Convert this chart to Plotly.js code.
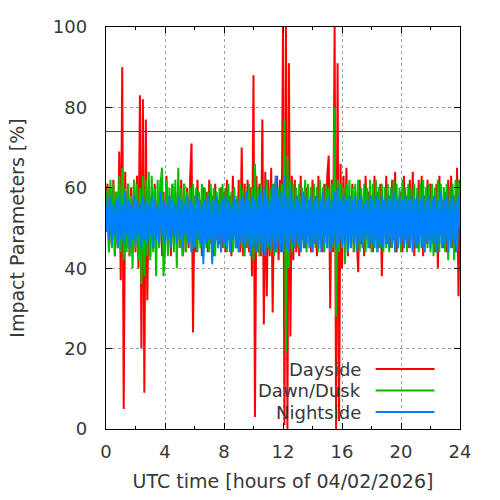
<!DOCTYPE html>
<html>
<head>
<meta charset="utf-8">
<script src="https://cdn.plot.ly/plotly-3.0.1.min.js"></script>
<style>html,body{margin:0;padding:0;background:#fff}#plot{width:500px;height:500px}</style>
</head>
<body>
<div id="plot"></div>
<script>
// Time grid: samples every 0.1 h from 0 to 24 h (241 samples)
var startHour = 0, stepHour = 0.1, nSamples = 241;

var seriesNames = ["Dayside", "Dawn/Dusk", "Nightside"];
var xTickVals = [0, 4, 8, 12, 16, 20, 24];
var yTickVals = [0, 20, 40, 60, 80, 100];
var thresholdValue = 74;

var dayside = [
 52,61,44,60,46,62,43,59,45,69,
 37,90,5,64,45,61,43,60,44,62,
 44,63,40,83,20,82,9,77,32,60,
 43,58,45,61,47,57,46,62,43,59,
 44,63,47,58,43,61,46,59,48,60,
 45,62,43,61,44,60,45,62,71,24,
 58,44,62,47,57,43,60,48,59,44,
 62,46,58,43,61,47,57,46,60,45,
 59,44,62,47,58,43,63,48,57,45,
 62,44,70,43,61,45,62,44,60,38,
 88,3,63,44,61,43,77,26,64,33,
 62,43,65,29,61,44,63,42,62,44,
 100,1,100,0,91,23,63,42,62,44,
 58,43,63,47,59,45,60,48,57,44,
 62,46,58,43,63,47,57,44,61,48,
 63,68,30,62,44,100,0,91,2,66,
 40,63,47,65,43,58,48,61,44,59,
 47,39,62,46,57,43,63,48,59,45,
 58,44,63,47,59,45,61,38,57,48,
 63,46,58,45,62,47,64,44,57,48,
 59,44,63,47,58,45,62,48,64,43,
 57,45,62,48,63,43,58,46,62,47,
 61,47,58,44,61,40,63,48,57,45,
 59,44,62,47,63,45,58,44,65,33,
 62
];

var dawnDusk = [
 52,60,44,62,45,61,43,59,46,63,
 44,65,42,60,44,61,43,58,40,62,
 45,61,42,60,36,63,38,62,43,64,
 42,63,44,60,38,62,45,61,65,38,
 44,62,43,60,45,61,44,62,40,65,
 45,60,43,61,44,59,46,60,44,61,
 45,60,44,59,45,61,43,60,45,59,
 44,61,45,60,43,59,46,60,44,61,
 45,60,44,61,45,59,44,60,45,58,
 44,61,45,60,43,59,45,61,44,60,
 42,66,44,60,43,61,45,60,44,62,
 45,60,44,61,43,62,44,60,45,61,
 46,77,19,68,40,62,44,61,45,60,
 45,61,44,60,46,62,44,61,45,60,
 44,61,45,60,44,62,45,60,44,61,
 45,60,44,61,45,80,28,62,44,61,
 45,60,41,61,44,62,45,60,44,61,
 45,62,44,60,45,61,44,60,45,62,
 44,61,45,62,44,60,45,61,44,60,
 45,61,44,60,45,62,44,61,45,60,
 44,62,45,60,44,61,45,60,44,61,
 45,60,44,61,45,62,44,60,45,61,
 44,61,43,60,45,62,44,61,45,60,
 44,61,42,60,45,61,42,62,44,62,
 50
];

var nightside = [
 49,57,47,58,46,56,48,57,45,58,
 47,56,46,59,48,57,45,56,47,58,
 46,57,48,56,45,58,47,57,46,56,
 48,58,45,57,47,56,46,59,48,57,
 46,56,47,58,45,57,48,56,46,58,
 47,57,45,56,48,58,46,57,44,56,
 45,58,47,57,46,56,41,57,46,58,
 47,56,41,57,46,58,45,56,44,57,
 46,58,45,57,44,56,47,58,45,57,
 44,57,46,58,45,59,46,57,43,58,
 45,57,44,58,46,59,44,60,43,58,
 46,57,45,60,44,63,45,58,44,59,
 44,63,45,58,44,60,46,57,45,58,
 46,57,44,59,45,58,46,57,45,58,
 44,57,46,58,45,57,44,59,46,57,
 45,58,44,57,46,59,45,60,46,57,
 45,58,46,57,44,58,45,57,46,58,
 44,57,46,58,45,56,47,57,45,58,
 46,57,45,58,44,57,46,58,45,57,
 46,58,45,57,46,59,44,57,45,58,
 46,57,45,58,46,57,45,58,44,57,
 45,58,46,57,45,58,44,57,46,58,
 45,57,46,58,44,57,46,59,45,57,
 46,58,44,57,45,58,46,57,44,58,
 50
];

var seriesColors = ["#ff0000", "#00c000", "#0080ff"];

var hours = [];
for (var i = 0; i < nSamples; i++) hours.push(+(startHour + i * stepHour).toFixed(2));

var seriesValues = [dayside, dawnDusk, nightside];
var traces = seriesValues.map(function (vals, k) {
  return {
    x: hours, y: vals, type: "scatter", mode: "lines", name: seriesNames[k],
    line: {color: seriesColors[k], width: 2, simplify: false},
    showlegend: false, hoverinfo: "skip"
  };
});

var textColor = "#383838";
var fontFamily = "DejaVu Sans";
var fontSize = 18;
var titleSize = 19;

var plotL = 106, plotR = 460.5, plotT = 27, plotB = 429;
function px(xp) { return (xp - plotL) / (plotR - plotL); }
function py(yp) { return (plotB - yp) / (plotB - plotT); }

var legendRowsY = [369, 390.5, 412];
var shapes = [{
  type: "line", xref: "paper", yref: "y", x0: 0, x1: 1, y0: thresholdValue, y1: thresholdValue,
  line: {color: "#9400d3", width: 1.2}
}];
var annotations = [];
seriesNames.forEach(function (name, k) {
  shapes.push({type: "line", xref: "paper", yref: "paper",
    x0: px(376), x1: px(435), y0: py(legendRowsY[k]), y1: py(legendRowsY[k]),
    line: {color: seriesColors[k], width: 2}});
  annotations.push({xref: "paper", yref: "paper", x: px(363), y: py(legendRowsY[k]),
    xanchor: "right", yanchor: "middle", showarrow: false, text: name,
    font: {family: fontFamily, size: fontSize, color: textColor}});
});

var layout = {
  width: 500, height: 500,
  margin: {l: plotL, r: 500 - plotR, t: plotT, b: 500 - plotB},
  paper_bgcolor: "#fff", plot_bgcolor: "#fff",
  font: {family: fontFamily, size: fontSize, color: textColor},
  showlegend: false,
  xaxis: {
    range: [0, 24], tickvals: xTickVals, ticktext: xTickVals.map(String),
    ticks: "inside", ticklen: 6, tickwidth: 1, tickcolor: "#000",
    showline: true, linecolor: "#000", linewidth: 1.2, mirror: "allticks",
    showgrid: true, gridcolor: "#a0a0a0", griddash: "dot", gridwidth: 1,
    zeroline: false, ticklabelstandoff: 6,
    tickfont: {family: fontFamily, size: fontSize, color: textColor},
    minor: {dtick: 2, tick0: 0, ticks: "inside", ticklen: 3, tickcolor: "#000", showgrid: false},
    title: {text: "UTC time [hours of 04/02/2026]", standoff: 14, font: {family: fontFamily, size: titleSize, color: textColor}}
  },
  yaxis: {
    range: [0, 100], tickvals: yTickVals, ticktext: yTickVals.map(String),
    ticks: "inside", ticklen: 6, tickwidth: 1, tickcolor: "#000",
    showline: true, linecolor: "#000", linewidth: 1.2, mirror: "allticks",
    showgrid: true, gridcolor: "#a0a0a0", griddash: "dot", gridwidth: 1,
    zeroline: false, ticklabelstandoff: 14,
    tickfont: {family: fontFamily, size: fontSize, color: textColor},
    title: {text: "Impact Parameters [%]", standoff: 23, font: {family: fontFamily, size: titleSize, color: textColor}}
  },
  shapes: shapes,
  annotations: annotations
};

Plotly.newPlot("plot", traces, layout, {staticPlot: true, displayModeBar: false});
</script>
</body>
</html>
